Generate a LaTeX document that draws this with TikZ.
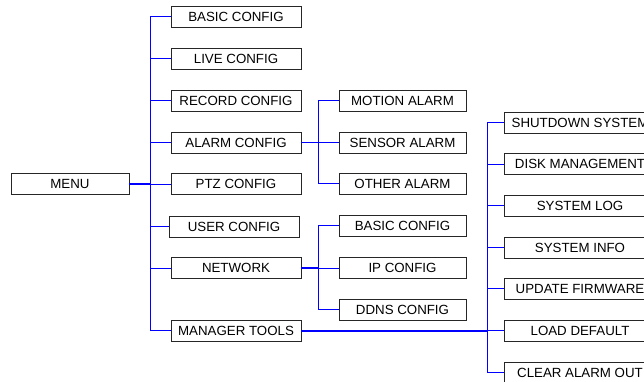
\documentclass[tikz,border=0pt]{standalone}
\usepackage{fontspec}
\setmainfont{Liberation Sans}
\begin{document}
\begin{tikzpicture}[x=1pt,y=-1pt,
  box/.style={draw=black!85, line width=0.9pt, fill=white, minimum height=21pt, inner sep=0pt, font=\fontsize{13.3}{15}\selectfont},
  c1/.style={box, minimum width=130pt},
  c2/.style={box, minimum width=127pt},
  c3/.style={box, minimum width=152pt},
  link/.style={draw=blue, line width=1pt},
  mainlink/.style={draw=blue, line width=2pt}]
\clip (0,0) rectangle (644,382);
\fill[white] (0,0) rectangle (644,382);
% root
\node[box, minimum width=118pt] (menu) at (70,184) {MENU};
% column 1
\node[c1] (basic) at (236,16.5) {BASIC CONFIG};
\node[c1] (live) at (236,58.5) {LIVE CONFIG};
\node[c1] (record) at (236,100.5) {RECORD CONFIG};
\node[c1] (alarm) at (236,142.5) {ALARM CONFIG};
\node[c1] (ptz) at (236,184) {PTZ CONFIG};
\node[c1] (user) at (234,226.5) {USER CONFIG};
\node[c1] (network) at (236,268) {NETWORK};
\node[c1] (manager) at (236,330.5) {MANAGER TOOLS};
% column 2
\node[c2] (motion) at (402.5,101) {MOTION ALARM};
\node[c2] (sensor) at (402.5,142.5) {SENSOR ALARM};
\node[c2] (other) at (402.5,183.5) {OTHER ALARM};
\node[c2] (nbasic) at (402.5,225.5) {BASIC CONFIG};
\node[c2] (ip) at (402.5,268) {IP CONFIG};
\node[c2] (ddns) at (402.5,309.5) {DDNS CONFIG};
% column 3
\node[c3] (shutdown) at (580,122.5) {SHUTDOWN SYSTEM};
\node[c3] (disk) at (580,164) {DISK MANAGEMENT};
\node[c3] (log) at (580,205.5) {SYSTEM LOG};
\node[c3] (info) at (580,247.5) {SYSTEM INFO};
\node[c3] (update) at (580,288.5) {UPDATE FIRMWARE};
\node[c3] (load) at (580,330.5) {LOAD DEFAULT};
\node[c3] (clear) at (580,372.5) {CLEAR ALARM OUT};
% trunk coordinates
\coordinate (t1) at (150,184);
\coordinate (t2) at (318,142.5);
\coordinate (t3) at (318,268);
\coordinate (t4) at (487,330.5);
% connectors
\draw[mainlink] (menu.east) -- (t1);
\foreach \n in {basic,live,record,alarm,ptz,user,network,manager}
  \draw[link] (\n.west) -| (t1);
\draw[link, line width=1.3pt] (alarm.east) -- (t2);
\foreach \n in {motion,sensor,other}
  \draw[link] (\n.west) -| (t2);
\draw[link, line width=1.3pt] (network.east) -- (t3);
\foreach \n in {nbasic,ip,ddns}
  \draw[link] (\n.west) -| (t3);
\draw[mainlink] (manager.east) -- (t4);
\foreach \n in {shutdown,disk,log,info,update,load,clear}
  \draw[link] (\n.west) -| (t4);
\end{tikzpicture}
\end{document}
